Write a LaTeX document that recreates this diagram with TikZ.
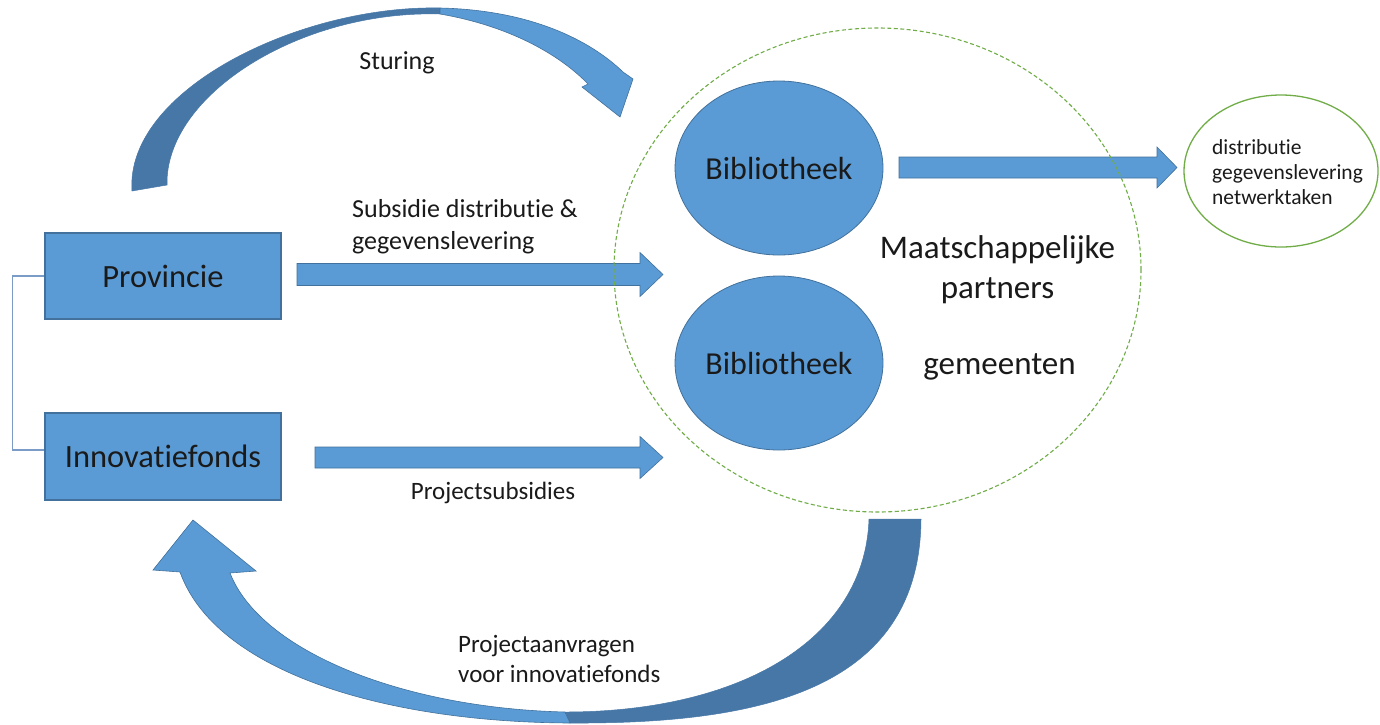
\documentclass[tikz,border=0pt]{standalone}
\usepackage{fontspec}
\setmainfont{Carlito}[RawFeature={-liga;-rlig;-clig;-dlig}]
\usetikzlibrary{shapes.geometric,calc}
\definecolor{boxblue}{HTML}{5B9BD5}
\definecolor{edgeblue}{HTML}{41719C}
\definecolor{backblue}{HTML}{4677A7}
\definecolor{dashgreen}{HTML}{70AD47}
\definecolor{linkblue}{HTML}{7A9CC6}
\definecolor{inktext}{HTML}{1A1A1A}
\newcommand\tisep{t\kern0pt i}
\newcommand\mkblockarrow[5]{%
  \filldraw[blockfill] ($(#1)+(0,-#3)$) -- ($(#2)+(-#5,-#3)$) -- ($(#2)+(-#5,-#4)$) -- (#2)
    -- ($(#2)+(-#5,#4)$) -- ($(#2)+(-#5,#3)$) -- ($(#1)+(0,#3)$) -- cycle;}
\begin{document}
\begin{tikzpicture}[x=1pt,y=-1pt,
  boxnode/.style={rectangle, draw=edgeblue, line width=1.2pt, fill=boxblue, minimum width=236pt,
    minimum height=86pt, inner sep=0pt, text=inktext, font=\fontsize{32.5}{39}\selectfont},
  libnode/.style={ellipse, draw=edgeblue, line width=0.8pt, fill=boxblue, minimum width=182pt,
    minimum height=174pt, inner sep=0pt, text=inktext, font=\fontsize{32}{38}\selectfont},
  lbl/.style={inner sep=0pt, text=inktext, font=\fontsize{26}{32}\selectfont},
  biglbl/.style={inner sep=0pt, text=inktext, align=center, font=\fontsize{33}{40}\selectfont},
  blockfill/.style={fill=boxblue, draw=edgeblue, line width=0.6pt},
  backfill/.style={fill=backblue, draw=backblue, line width=0.5pt},
  frontfill/.style={fill=boxblue, draw=edgeblue, line width=0.6pt},
  ringline/.style={ellipse, draw=dashgreen, line width=1.1pt, dash pattern=on 4pt off 2.5pt, inner sep=0pt},
  outline/.style={ellipse, draw=dashgreen, line width=1.3pt, inner sep=0pt},
  linkline/.style={draw=linkblue, line width=1.5pt}
]
\fill[white] (0,0) rectangle (1380,724);
\useasboundingbox (0,0) rectangle (1380,724);

% ---- Sturing curved arrow (top) ----
\filldraw[backfill] (132,191) .. controls (125,90) and (300,5) .. (440,8)
  -- (440,14) .. controls (300,10) and (165,95) .. (167,185) -- cycle;
\filldraw[frontfill] (440,8) .. controls (530,10) and (590,40) .. (623,72)
  -- (633,79) -- (620,117) -- (582,87) -- (588,84)
  .. controls (560,55) and (510,26) .. (440,14) -- cycle;

% ---- Projectaanvragen curved arrow (bottom) ----
\filldraw[backfill] (921,519) .. controls (920,690) and (760,724) .. (570,723)
  -- (565,712) .. controls (740,712) and (865,640) .. (869,519) -- cycle;
\filldraw[frontfill] (570,723) .. controls (380,722) and (215,670) .. (180,572)
  -- (153,570) -- (193,520) -- (256,571) -- (230,573)
  .. controls (260,650) and (400,708) .. (565,712) -- cycle;

% ---- nodes ----
\node[boxnode] (prov) at (163,276) {Provincie};
\node[boxnode, minimum height=87pt] (innov) at (163,456.5) {Innova\tisep efonds};
\node[libnode] (lib1) at (779,168) {Bibliotheek};
\node[libnode] (lib2) at (779,363) {Bibliotheek};
\node[outline, minimum width=194pt, minimum height=152pt] (outell) at (1281,171) {};

% ---- straight block arrows ----
\coordinate (a1s) at (297,274.5);
\coordinate (a1t) at (663,274.5);
\coordinate (a2s) at (315,457.5);
\coordinate (a2t) at (663,457.5);
\coordinate (a3s) at (899,167.5);
\coordinate (a3t) at (1177,167.5);
\mkblockarrow{a1s}{a1t}{11}{22}{23}
\mkblockarrow{a2s}{a2t}{10.5}{21}{23}
\mkblockarrow{a3s}{a3t}{10.5}{20.5}{20}

% ---- dashed ring of partners ----
\node[ringline, minimum width=527pt, minimum height=484pt] (ring) at (877.5,270) {};

% ---- link between Provincie and Innovatiefonds ----
\draw[linkline] (prov.west) -- ++(-32,0) |- ($(innov.west)+(0,-6.5)$);

% ---- labels ----
\node[lbl] (sturing) at (397,63) {Sturing};
\node[lbl, align=left, anchor=west] (subs) at (352,227) {Subsidie distribu\tisep e \&\\gegevenslevering};
\node[lbl, font=\fontsize{25}{31}\selectfont] (projs) at (493,493) {Projectsubsidies};
\node[lbl, align=left, anchor=west, font=\fontsize{25}{30}\selectfont] (aanv) at (458,659) {Projectaanvragen\\voor innova\tisep efonds};
\node[biglbl] (maat) at (997.5,270) {Maatschappelijke\\partners};
\node[biglbl] (gem) at (999.5,367) {gemeenten};
\node[inner sep=0pt, text=inktext, align=left, font=\fontsize{21.5}{25}\selectfont] (outtxt) at ($(outell.center)+(6.5,1)$) {distribu\tisep e\\gegevenslevering\\netwerktaken};
\end{tikzpicture}
\end{document}
